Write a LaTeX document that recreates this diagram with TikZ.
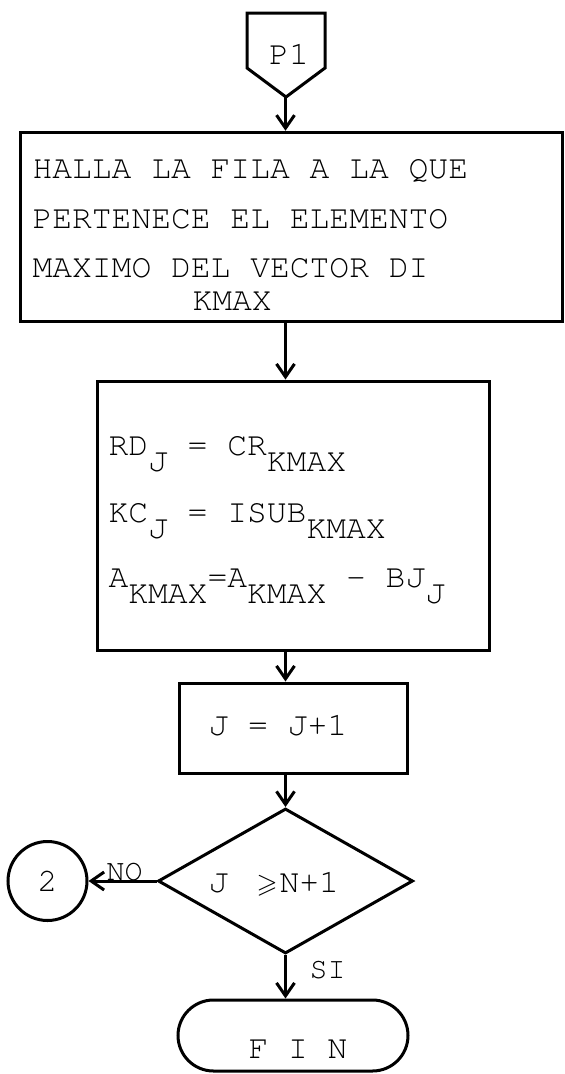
\documentclass[tikz,border=0pt]{standalone}
\usepackage[T1,TU]{fontenc}
\usepackage{amssymb}
\usetikzlibrary{arrows.meta,shapes.geometric,shapes.misc}
\newcommand\twfont{\fontencoding{T1}\fontfamily{pcr}\fontsize{33}{40}\selectfont}
\newcommand\twsmall{\fontencoding{T1}\fontfamily{pcr}\fontsize{30}{36}\selectfont}
\newcommand\dn[1]{\raisebox{-16pt}{#1}}
\begin{document}
\begin{tikzpicture}[x=1pt,y=-1pt,line width=3pt,
  box/.style={draw,rectangle,inner sep=0pt,line width=3pt},
  txt/.style={inner sep=0pt,anchor=base west,font=\twfont},
  lbl/.style={inner sep=0pt,anchor=base west,font=\twsmall},
  arr/.style={-{Straight Barb[length=13pt,width=18pt]},line width=3pt}]
\useasboundingbox (0,0) rectangle (565,1074);
% off-page connector P1
\draw[line join=miter] (247,13) -- (325,13) -- (325,68) -- (286,97) -- (247,68) -- cycle;
\node[inner sep=0pt,font=\twfont] (p1) at (289,54) {P1};
\coordinate (p1tip) at (285.5,97);
% box 1
\node[box,minimum width=542pt,minimum height=189.5pt] (b1) at (291,227) {};
\node[txt] (t11) at (31,178) {HALLA LA FILA A LA QUE};
\node[txt] (t12) at (31,228) {PERTENECE EL ELEMENTO};
\node[txt] (t13) at (31,277) {MAXIMO DEL VECTOR DI};
\node[txt] (t14) at (191,310) {KMAX};
% box 2
\node[box,minimum width=392pt,minimum height=269pt] (b2) at (293,515.5) {};
\node[txt] (t21) at (107,455) {RD\dn{J} = CR\dn{KMAX}};
\node[txt] (t22) at (107,522) {KC\dn{J} = ISUB\dn{KMAX}};
\node[txt] (t23) at (107,587) {A\dn{KMAX}=A\dn{KMAX} - BJ\dn{J}};
% box 3
\node[box,minimum width=228pt,minimum height=90pt] (b3) at (293,728) {};
\node[txt] (t31) at (207,735) {J = J+1};
% decision
\node[draw,diamond,minimum width=255pt,minimum height=145pt,inner sep=0pt,line width=3pt] (d) at (285.5,881) {};
\node[txt] (t41) at (207,892) {\makebox[48pt][l]{J}\makebox[23pt][l]{\fontsize{27}{27}\selectfont$\geqslant$}N+1};
% connector 2
\node[draw,circle,minimum size=79pt,inner sep=0pt,line width=3pt,font=\twfont] (c2) at (47.5,881) {2};
% terminal
\node[draw,rounded rectangle,minimum width=230pt,minimum height=71pt,inner sep=0pt,line width=3pt] (fin) at (293,1035.5) {};
\node[txt] (t51) at (247,1058) {F I N};
% labels
\node[lbl] (no) at (105,880) {NO};
\node[lbl] (si) at (308,978) {SI};
% connectors
\draw[arr] (p1tip) -- (p1tip |- b1.north);
\draw[arr] (b1.south -| d.north) -- (b2.north -| d.north);
\draw[arr] (b2.south -| d.north) -- (b3.north -| d.north);
\draw[arr] (b3.south -| d.north) -- (d.north);
\draw[arr] (d.south) -- (d.south |- fin.north);
\draw[arr] (d.west) -- (c2.east);
\end{tikzpicture}
\end{document}
